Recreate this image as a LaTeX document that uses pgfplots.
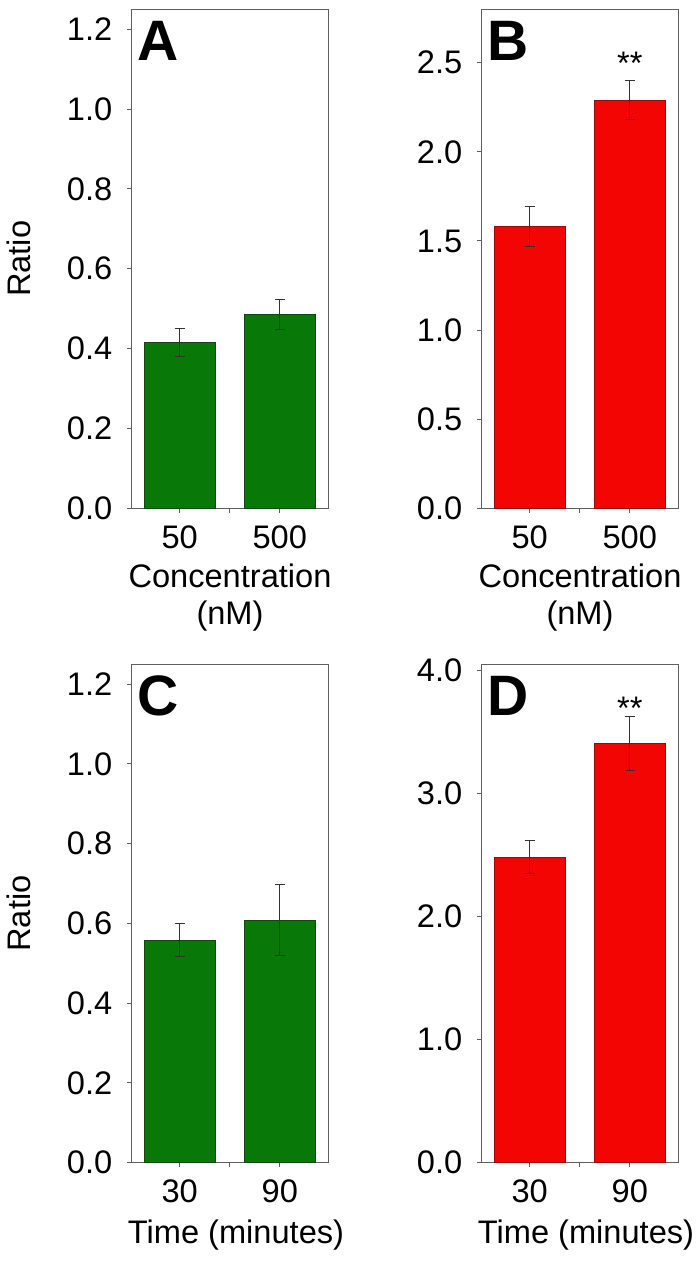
\documentclass[border=0pt]{standalone}
\usepackage{fontspec}
\setmainfont{Liberation Sans}
\usepackage{pgfplots}
\pgfplotsset{compat=1.18}
\definecolor{greenfill}{RGB}{8,120,8}
\definecolor{greenedge}{RGB}{20,70,20}
\definecolor{redfill}{RGB}{243,5,4}
\definecolor{rededge}{RGB}{150,10,10}
\definecolor{framegray}{RGB}{95,95,95}
\definecolor{errgray}{RGB}{50,50,50}
\newcommand{\lblfont}{\fontsize{16.3}{17}\selectfont}
\newcommand{\xlblfont}{\fontsize{16.3}{18.5}\selectfont}
\newcommand{\letterfont}{\fontsize{28.5}{30}\selectfont\bfseries}
\pgfplotsset{
  panel/.style={
    scale only axis, width=98.3pt, height=249.5pt, anchor=south west,
    ybar, bar width=35.5pt, xmin=-0.48, xmax=1.485, ymin=0,
    axis line style={draw=framegray, line width=0.5pt},
    tick style={draw=framegray, line width=0.5pt},
    tick align=outside, ytick pos=left, xtick pos=bottom,
    major tick length=2.2pt,
    xtick={0,0.5,1},
    /pgf/number format/assume math mode=true,
    tick label style={font=\lblfont},
    yticklabel style={xshift=-4pt, /pgf/number format/fixed, /pgf/number format/fixed zerofill, /pgf/number format/precision=1},
    xticklabel style={yshift=-3pt},
    label style={font=\lblfont},
    xlabel style={align=center, anchor=north, font=\xlblfont},
    ylabel style={at={(axis description cs:-0.475,0.5)}, anchor=south},
    error bars/error bar style={line width=0.5pt, errgray},
    error bars/error mark options={rotate=90, mark size=2.5pt, line width=0.5pt, errgray},
  },
  greenbar/.style={draw=greenedge, fill=greenfill, line width=0.4pt, error bars/.cd, y dir=both, y explicit},
  redbar/.style={draw=rededge, fill=redfill, line width=0.4pt, error bars/.cd, y dir=both, y explicit},
}
\begin{document}
\begin{tikzpicture}
% Panel A
\begin{axis}[panel, at={(65.85pt,377.35pt)}, ymax=1.25,
  ytick={0,0.2,0.4,0.6,0.8,1.0,1.2}, xticklabels={50,{},500},
  ylabel={Ratio}, xlabel={Concentration\\(nM)},
  xlabel style={at={(axis description cs:0.5,-0.0976)}}]
\addplot[greenbar] coordinates {(0,0.416) +- (0,0.035) (1,0.485) +- (0,0.037)};
\node[anchor=north west, inner sep=0pt, font=\letterfont] at (rel axis cs:0,1) [xshift=2.65pt, yshift=-5.7pt] {A};
\end{axis}
% Panel B
\begin{axis}[panel, at={(240.85pt,377.35pt)}, ymax=2.8,
  ytick={0,0.5,1.0,1.5,2.0,2.5}, xticklabels={50,{},500},
  xlabel={Concentration\\(nM)},
  xlabel style={at={(axis description cs:0.5,-0.0976)}}]
\addplot[redbar] coordinates {(0,1.58) +- (0,0.112) (1,2.29) +- (0,0.111)};
\node[anchor=north west, inner sep=0pt, font=\letterfont] at (rel axis cs:0,1) [xshift=2.65pt, yshift=-5.7pt] {B};
\node[anchor=base, inner sep=0pt, font=\lblfont] at (axis cs:1,2.434) {**};
\end{axis}
% Panel C
\begin{axis}[panel, at={(65.85pt,50.15pt)}, height=249.2pt, ymax=1.25,
  ytick={0,0.2,0.4,0.6,0.8,1.0,1.2}, xticklabels={30,{},90},
  ylabel={Ratio}, xlabel={Time (minutes)},
  xlabel style={at={(axis description cs:0.5,-0.1015)}, xshift=3pt}]
\addplot[greenbar] coordinates {(0,0.558) +- (0,0.042) (1,0.608) +- (0,0.089)};
\node[anchor=north west, inner sep=0pt, font=\letterfont] at (rel axis cs:0,1) [xshift=2.65pt, yshift=-5.7pt] {C};
\end{axis}
% Panel D
\begin{axis}[panel, at={(240.85pt,50.15pt)}, height=249.2pt, ymax=4.05,
  ytick={0,1,2,3,4}, xticklabels={30,{},90},
  xlabel={Time (minutes)},
  xlabel style={at={(axis description cs:0.5,-0.1015)}, xshift=3pt}]
\addplot[redbar] coordinates {(0,2.484) +- (0,0.133) (1,3.409) +- (0,0.22)};
\node[anchor=north west, inner sep=0pt, font=\letterfont] at (rel axis cs:0,1) [xshift=2.65pt, yshift=-5.7pt] {D};
\node[anchor=base, inner sep=0pt, font=\lblfont] at (axis cs:1,3.601) {**};
\end{axis}
\pgfresetboundingbox
\useasboundingbox (0,0) rectangle (350pt,631.5pt);
\end{tikzpicture}
\end{document}
